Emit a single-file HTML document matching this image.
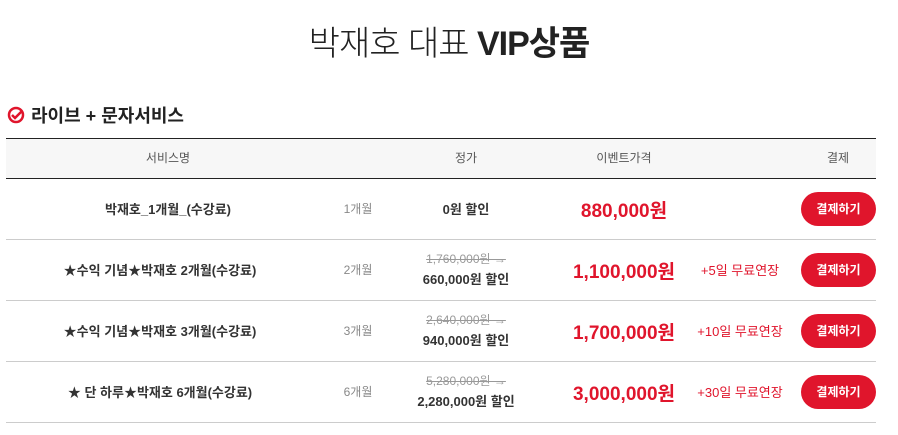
<!DOCTYPE html>
<html><head><meta charset="utf-8"><style>
body{margin:0;width:898px;height:435px;background:#fff;font-family:"Liberation Sans","Noto Sans CJK KR",sans-serif;position:relative;overflow:hidden;color:#222}
.a{position:absolute;white-space:nowrap}
.c{transform:translateX(-50%)}
.title{top:16px;left:449px;font-size:34px;color:#222;letter-spacing:-1px;font-weight:300}
.title b{font-weight:bold}
.sec{top:102px;left:31px;font-size:18px;font-weight:bold;color:#222}
.hdr{position:absolute;left:6px;top:138px;width:870px;height:39px;background:#f7f7f7;border-top:1px solid #222;border-bottom:1px solid #222}
.h{top:149px;font-size:12px;color:#555}
.line{position:absolute;left:6px;width:870px;height:1px;background:#ccc}
.name{font-size:13px;font-weight:bold;color:#333}
.per{font-size:12px;color:#888}
.old{font-size:12px;color:#999;text-decoration:line-through}
.disc{font-size:13px;font-weight:bold;color:#333}
.ev{font-size:19px;font-weight:bold;color:#e0152c}
.ext{font-size:13px;color:#e0152c}
.btn{position:absolute;left:801px;width:75px;height:34px;border-radius:17px;background:#e0152c;color:#fff;font-size:12px;font-weight:bold;text-align:center;line-height:34px}
</style></head><body>
<div class="a c title">박재호 대표 <b>VIP상품</b></div>
<svg class="a" style="left:7px;top:106px" width="18" height="18" viewBox="0 0 18 18"><circle cx="9" cy="9" r="7" fill="none" stroke="#e0152c" stroke-width="2.5"/><path d="M5 9l3 3 7-7" fill="none" stroke="#e0152c" stroke-width="2.5"/></svg>
<div class="a sec">라이브 + 문자서비스</div>
<div class="hdr"></div>
<div class="a c h" style="left:168px">서비스명</div>
<div class="a c h" style="left:466px">정가</div>
<div class="a c h" style="left:624px">이벤트가격</div>
<div class="a c h" style="left:838px">결제</div>

<div class="line" style="top:239px"></div>
<div class="line" style="top:300px"></div>
<div class="line" style="top:361px"></div>
<div class="line" style="top:422px"></div>

<div class="a c name" style="left:168px;top:199px">박재호_1개월_(수강료)</div>
<div class="a c per" style="left:358px;top:200px">1개월</div>
<div class="a c disc" style="left:466px;top:199px">0원 할인</div>
<div class="a c ev" style="left:624px;top:196px">880,000원</div>
<div class="btn" style="top:192px">결제하기</div>

<div class="a c name" style="left:160px;top:260px">★수익 기념★박재호 2개월(수강료)</div>
<div class="a c per" style="left:358px;top:261px">2개월</div>
<div class="a c old" style="left:466px;top:250px">1,760,000원 →</div>
<div class="a c disc" style="left:466px;top:269px">660,000원 할인</div>
<div class="a c ev" style="left:624px;top:257px">1,100,000원</div>
<div class="a c ext" style="left:740px;top:260px">+5일 무료연장</div>
<div class="btn" style="top:253px">결제하기</div>

<div class="a c name" style="left:160px;top:321px">★수익 기념★박재호 3개월(수강료)</div>
<div class="a c per" style="left:358px;top:322px">3개월</div>
<div class="a c old" style="left:466px;top:311px">2,640,000원 →</div>
<div class="a c disc" style="left:466px;top:330px">940,000원 할인</div>
<div class="a c ev" style="left:624px;top:318px">1,700,000원</div>
<div class="a c ext" style="left:740px;top:321px">+10일 무료연장</div>
<div class="btn" style="top:314px">결제하기</div>

<div class="a c name" style="left:160px;top:382px">★ 단 하루★박재호 6개월(수강료)</div>
<div class="a c per" style="left:358px;top:383px">6개월</div>
<div class="a c old" style="left:466px;top:372px">5,280,000원 →</div>
<div class="a c disc" style="left:466px;top:391px">2,280,000원 할인</div>
<div class="a c ev" style="left:624px;top:379px">3,000,000원</div>
<div class="a c ext" style="left:740px;top:382px">+30일 무료연장</div>
<div class="btn" style="top:375px">결제하기</div>
</body></html>
